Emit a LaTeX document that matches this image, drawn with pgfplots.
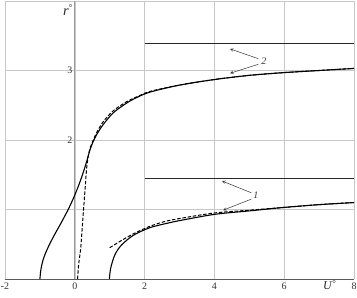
\documentclass[border=0pt]{standalone}
\usepackage{fontspec}
\setmainfont{Liberation Serif}
\usepackage{pgfplots}
\pgfplotsset{compat=1.18}
\usetikzlibrary{calc}
\begin{document}
\begin{tikzpicture}
\begin{axis}[
  scale only axis, width=349bp, height=278bp,
  xmin=-2, xmax=8, ymin=0, ymax=4,
  axis x line=bottom, axis y line=middle,
  axis line style={-},
  x axis line style={draw=black!65, line width=0.8pt},
  y axis line style={draw=black!40, line width=0.8pt},
  xtick={-2,0,2,4,6,8}, ytick={0,1,2,3,4},
  yticklabels={,,2,3,},
  major tick length=0pt,
  grid=major, major grid style={black!22, line width=0.6pt},
  /pgf/number format/assume math mode=true,
  tick label style={font=\normalsize, text=black!80},
  xticklabel style={yshift=0bp},
  yticklabel style={xshift=1bp},
  clip=false,
]
\addplot[black, line width=1.1pt, smooth, tension=0.5] coordinates {
(-1.0,0)(-0.97,0.14)(-0.9,0.29)(-0.78,0.44)(-0.6,0.62)(-0.4,0.8)(-0.2,0.99)(-0.05,1.15)(0.09,1.32)(0.22,1.5)(0.34,1.69)(0.43,1.85)(0.52,1.97)(0.63,2.08)(0.81,2.22)(1.1,2.39)(1.48,2.53)(1.77,2.61)(2.16,2.69)(3.0,2.79)(4.0,2.87)(5,2.93)(6.0,2.97)(7,3.0)(8.0,3.03)};
\addplot[black, line width=1.0pt, dash pattern=on 3.5pt off 1.8pt, smooth, tension=0.5] coordinates {
(0.08,0)(0.11,0.21)(0.17,0.45)(0.24,0.93)(0.29,1.26)(0.34,1.6)(0.39,1.78)(0.45,1.9)(0.53,2.0)(0.63,2.11)(0.81,2.26)(1.1,2.42)(1.48,2.55)(1.77,2.62)(2.16,2.70)(3,2.79)(4,2.87)(5,2.93)(6,2.97)(7,3.0)(8,3.03)};
\addplot[black, line width=1.1pt, smooth, tension=0.5] coordinates {
(0.99,0)(1.03,0.16)(1.15,0.35)(1.34,0.49)(1.68,0.63)(2.16,0.74)(2.63,0.8)(3.0,0.84)(4.0,0.93)(5,0.98)(6.0,1.03)(7,1.07)(8.0,1.1)};
\addplot[black, line width=1.0pt, dash pattern=on 3.5pt off 1.8pt, smooth, tension=0.5] coordinates {
(1.0,0.45)(1.29,0.54)(1.68,0.65)(2.16,0.76)(2.6,0.83)(3.0,0.87)(4.0,0.95)(5,0.99)(6,1.03)(7,1.07)(8,1.1)};
\addplot[black!85, line width=1.1pt] coordinates {(2,3.39)(8,3.39)};
\addplot[black!85, line width=1.1pt] coordinates {(2,1.44)(8,1.44)};
\draw[-stealth, black!80, line width=0.5pt] (axis cs:5.26,3.17) -- (axis cs:4.45,3.31);
\draw[-stealth, black!80, line width=0.5pt] (axis cs:5.26,3.09) -- (axis cs:4.45,2.96);
\node[font=\normalsize\itshape, text=black!80] at (axis cs:5.42,3.13) {2};
\draw[-stealth, black!80, line width=0.5pt] (axis cs:5.06,1.24) -- (axis cs:4.22,1.41);
\draw[-stealth, black!80, line width=0.5pt] (axis cs:5.06,1.15) -- (axis cs:4.25,0.99);
\node[font=\normalsize\itshape, text=black!80] at (axis cs:5.19,1.20) {1};
\node[font=\Large, text=black!85, inner sep=0pt] at (axis cs:-0.2,3.87) {\textit{r}\raisebox{0.7ex}{\small °}};
\node[font=\large, text=black!85, inner sep=0pt] at (axis cs:7.3,-0.09) {\textit{U}\raisebox{0.6ex}{\small °}};
\end{axis}
\pgfresetboundingbox
\path ($(current axis.south west)+(-5bp,-19bp)$) rectangle ($(current axis.north east)+(3bp,1bp)$);
\end{tikzpicture}
\end{document}
